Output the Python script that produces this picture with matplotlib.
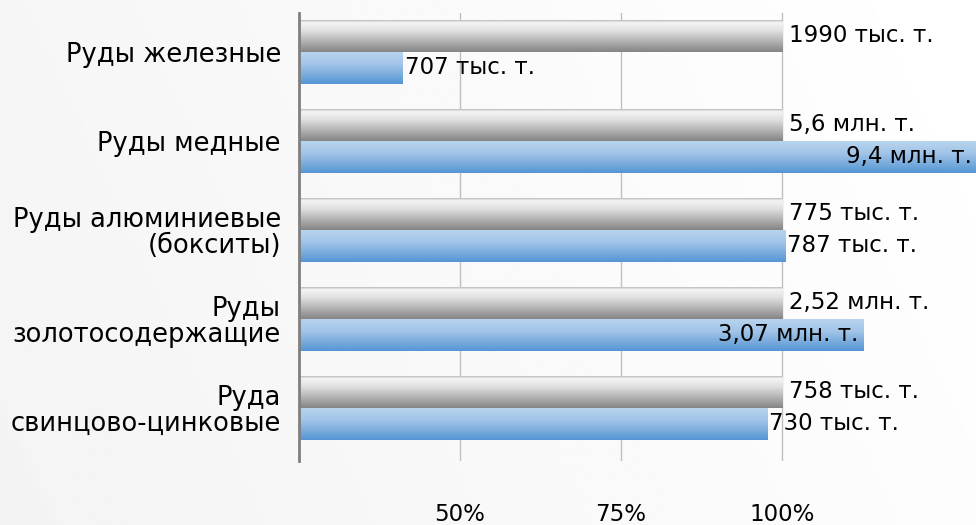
import matplotlib.pyplot as plt
import numpy as np
from matplotlib.colors import LinearSegmentedColormap

plt.rcParams['font.family'] = ['DejaVu Sans']

categories = ['Руды железные', 'Руды медные', 'Руды алюминиевые\n(бокситы)',
              'Руды\nзолотосодержащие', 'Руда\nсвинцово-цинковые']
grey_vals = [100, 100, 100, 100, 100]
blue_vals = [41.1, 168.0, 100.5, 112.6, 97.7]
grey_labels = ['1990 тыс. т.', '5,6 млн. т.', '775 тыс. т.', '2,52 млн. т.', '758 тыс. т.']
blue_labels = ['707 тыс. т.', '9,4 млн. т.', '787 тыс. т.', '3,07 млн. т.', '730 тыс. т.']
xticks = [50, 75, 100]
xticklabels = ['50%', '75%', '100%']

XMIN, XMAX = 25, 130.1

fig = plt.figure(figsize=(9.76, 5.25), dpi=100)

# soft background
bg = fig.add_axes([0, 0, 1, 1], zorder=-10)
yy, xx = np.mgrid[0:1:200j, 0:1:200j]
shade = 0.955 + 0.045 * np.clip(xx * 0.8 + (1 - yy) * 0.2, 0, 1)
bg.imshow(shade, cmap='gray', vmin=0, vmax=1, aspect='auto', extent=[0, 1, 0, 1])
bg.axis('off')

ax = fig.add_axes([299 / 976, 1 - 461 / 525, 1 - 299 / 976, 448 / 525])
ax.patch.set_alpha(0)

grey_cmap = LinearSegmentedColormap.from_list(
    'g', [(0, '#a8a8a8'), (0.1, '#f4f4f4'), (0.35, '#e0e0e0'), (1, '#858585')])
blue_cmap = LinearSegmentedColormap.from_list(
    'b', [(0, '#bad5ef'), (0.4, '#a2c4e8'), (1, '#5596d4')])

y = np.arange(len(categories))
h = 0.36
gbars = ax.barh(y - h / 2, [v - XMIN for v in grey_vals], h, left=XMIN, color='#c0c0c0', zorder=3)
bbars = ax.barh(y + h / 2, [v - XMIN for v in blue_vals], h, left=XMIN, color='#8fb8e3', zorder=3)

grad = np.linspace(0, 1, 100).reshape(-1, 1)
for bars, cmap in [(gbars, grey_cmap), (bbars, blue_cmap)]:
    for b in bars:
        x0, y0 = b.get_x(), b.get_y()
        x1, y1 = x0 + b.get_width(), y0 + b.get_height()
        im = ax.imshow(grad, cmap=cmap, aspect='auto', extent=[x0, x1, y1, y0],
                       origin='upper', zorder=4)
        im.set_clip_path(b)

fs = 16.5
for i in range(len(categories)):
    ax.text(grey_vals[i] + 1.0, y[i] - h / 2, grey_labels[i], va='center', ha='left',
            fontsize=fs, zorder=6)
    v = blue_vals[i]
    if v > XMAX:
        ax.text(XMAX - 0.6, y[i] + h / 2, blue_labels[i], va='center', ha='right',
                fontsize=fs, zorder=6)
    elif v > 105:
        ax.text(v - 0.8, y[i] + h / 2, blue_labels[i], va='center', ha='right',
                fontsize=fs, zorder=6)
    else:
        ax.text(v + 0.3, y[i] + h / 2, blue_labels[i], va='center', ha='left',
                fontsize=fs, zorder=6)

ax.set_xlim(XMIN, XMAX)
ax.set_ylim(4.596, -0.438)
ax.set_yticks(y)
ax.set_yticklabels(categories, fontsize=18.5, linespacing=1.0)
ax.set_xticks(xticks)
ax.set_xticklabels(xticklabels, fontsize=fs)
ax.tick_params(axis='y', length=0, pad=13)
ax.tick_params(axis='x', length=0, pad=30)
ax.grid(axis='x', color='#bfbfbf', linewidth=1, zorder=0)
for s in ['top', 'right', 'bottom']:
    ax.spines[s].set_visible(False)
ax.spines['left'].set_color('#7f7f7f')
ax.spines['left'].set_linewidth(2)
ax.spines['left'].set_zorder(7)

fig.savefig('out.png', dpi=100)
